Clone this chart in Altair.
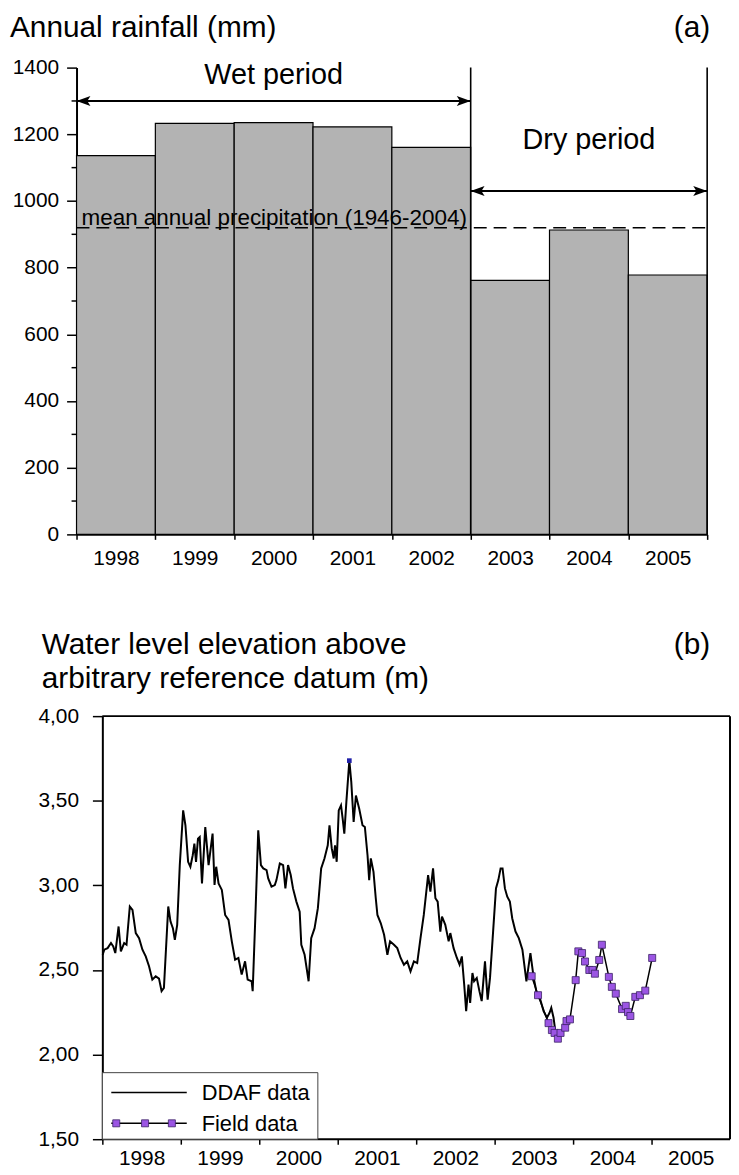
import altair as alt
import pandas as pd

FONT = "Liberation Sans"

# ---------------- panel (a) data ----------------
years = [1998, 1999, 2000, 2001, 2002, 2003, 2004, 2005]
rainfall = [1136, 1233, 1235, 1222, 1161, 762, 913, 778]
mean_precip = 920
mean_label = "mean annual precipitation (1946-2004)"
rain_ticks = [0, 200, 400, 600, 800, 1000, 1200, 1400]
rain_minor = [100, 300, 500, 700, 900, 1100, 1300]
rain_top = 1400
period_names = ["Wet period", "Dry period"]
period_start = [1998, 2003]
period_end = [2003, 2006]
period_level = [1300, 1030]
divider_years = [2003, 2006]

# ---------------- panel (b) data ----------------
ddaf_t = [1998.004, 1998.025, 1998.067, 1998.110, 1998.139, 1998.165, 1998.207, 1998.236,
          1998.278, 1998.308, 1998.350, 1998.384, 1998.426, 1998.468, 1998.511, 1998.553,
          1998.595, 1998.637, 1998.680, 1998.722, 1998.755, 1998.785, 1998.840, 1998.869,
          1998.899, 1998.924, 1998.954, 1998.987, 1999.030, 1999.059, 1999.093, 1999.122,
          1999.152, 1999.173, 1999.194, 1999.219, 1999.241, 1999.270, 1999.312, 1999.354,
          1999.405, 1999.430, 1999.451, 1999.481, 1999.523, 1999.565, 1999.608, 1999.650,
          1999.692, 1999.734, 1999.776, 1999.819, 1999.852, 1999.903, 1999.916, 1999.954,
          1999.987, 2000.021, 2000.051, 2000.093, 2000.114, 2000.156, 2000.198, 2000.219,
          2000.262, 2000.304, 2000.333, 2000.367, 2000.401, 2000.430, 2000.473, 2000.515,
          2000.536, 2000.578, 2000.629, 2000.662, 2000.705, 2000.747, 2000.789, 2000.831,
          2000.873, 2000.895, 2000.924, 2000.949, 2000.966, 2000.987, 2001.013, 2001.042,
          2001.063, 2001.084, 2001.110, 2001.148, 2001.173, 2001.203, 2001.232, 2001.274,
          2001.316, 2001.346, 2001.380, 2001.401, 2001.422, 2001.456, 2001.485, 2001.506,
          2001.549, 2001.591, 2001.633, 2001.667, 2001.717, 2001.759, 2001.802, 2001.844,
          2001.886, 2001.928, 2001.971, 2002.013, 2002.055, 2002.097, 2002.152, 2002.181,
          2002.215, 2002.245, 2002.274, 2002.308, 2002.329, 2002.371, 2002.414, 2002.435,
          2002.477, 2002.519, 2002.553, 2002.582, 2002.612, 2002.637, 2002.667, 2002.688,
          2002.717, 2002.738, 2002.772, 2002.806, 2002.835, 2002.877, 2002.911, 2002.941,
          2002.975, 2003.017, 2003.047, 2003.076, 2003.101, 2003.131, 2003.161, 2003.194,
          2003.224, 2003.266, 2003.308, 2003.354, 2003.405, 2003.456, 2003.498, 2003.540,
          2003.582, 2003.624, 2003.667, 2003.700, 2003.722, 2003.751, 2003.776]
ddaf_v = [2.590, 2.620, 2.629, 2.659, 2.639, 2.600, 2.757, 2.610,
          2.659, 2.649, 2.875, 2.855, 2.718, 2.688, 2.620, 2.580,
          2.522, 2.443, 2.463, 2.449, 2.375, 2.394, 2.875, 2.786,
          2.747, 2.678, 2.767, 3.120, 3.443, 3.355, 3.139, 3.110,
          3.178, 3.247, 3.139, 3.276, 3.286, 3.012, 3.345, 3.120,
          3.306, 3.002, 3.110, 3.012, 2.973, 2.825, 2.796, 2.669,
          2.561, 2.571, 2.473, 2.551, 2.443, 2.433, 2.375, 2.865,
          3.325, 3.120, 3.100, 3.090, 3.041, 2.992, 3.002, 3.031,
          3.129, 3.120, 2.982, 3.120, 3.061, 2.982, 2.904, 2.845,
          2.649, 2.590, 2.433, 2.688, 2.747, 2.865, 3.100, 3.159,
          3.237, 3.355, 3.218, 3.159, 3.237, 3.139, 3.443, 3.473,
          3.394, 3.306, 3.492, 3.737, 3.610, 3.375, 3.531, 3.453,
          3.355, 3.345, 3.178, 3.031, 3.159, 3.080, 2.924, 2.825,
          2.776, 2.708, 2.590, 2.669, 2.649, 2.629, 2.571, 2.531,
          2.551, 2.492, 2.551, 2.541, 2.688, 2.825, 3.061, 2.963,
          3.100, 2.924, 2.904, 2.727, 2.816, 2.767, 2.669, 2.718,
          2.629, 2.571, 2.531, 2.580, 2.414, 2.257, 2.414, 2.306,
          2.482, 2.433, 2.453, 2.375, 2.316, 2.551, 2.325, 2.453,
          2.688, 2.982, 3.031, 3.100, 3.100, 2.982, 2.933, 2.904,
          2.806, 2.727, 2.688, 2.620, 2.433, 2.600, 2.453, 2.355,
          2.325, 2.257, 2.218, 2.247, 2.276, 2.218, 2.129]
field_t = [2003.472, 2003.553, 2003.687, 2003.730, 2003.764, 2003.806, 2003.840, 2003.899,
           2003.916, 2003.960, 2004.033, 2004.067, 2004.114, 2004.152, 2004.207, 2004.248,
           2004.278, 2004.333, 2004.367, 2004.456, 2004.494, 2004.544, 2004.624, 2004.671,
           2004.700, 2004.730, 2004.793, 2004.852, 2004.920, 2005.008]
field_v = [2.463, 2.351, 2.186, 2.145, 2.128, 2.094, 2.128, 2.159,
           2.198, 2.208, 2.440, 2.610, 2.600, 2.550, 2.500, 2.500,
           2.478, 2.559, 2.649, 2.459, 2.400, 2.360, 2.269, 2.288,
           2.251, 2.228, 2.341, 2.351, 2.378, 2.571]
peak_t = [2001.148]
peak_v = [3.737]
level_ticks = [1.5, 2.0, 2.5, 3.0, 3.5, 4.0]
level_min, level_max = 1.5, 4.0
axis_years = [1998, 1999, 2000, 2001, 2002, 2003, 2004, 2005]
legend_labels = ["DDAF data", "Field data"]

PURPLE = "#9b55e3"
PURPLE_EDGE = "#3b2266"

# ================= panel (a) =================
W1, H1 = 635, 470
xs1 = alt.Scale(domain=[1998, 2006], nice=False, zero=False)
ys1 = alt.Scale(domain=[0, rain_top], nice=False)

bar_df = pd.DataFrame({"year": years, "year_end": [y + 1 for y in years], "rain": rainfall,
                       "base": [0] * len(years)})
bars = alt.Chart(bar_df).mark_rect(fill="#b3b3b3", stroke="black", strokeWidth=1.2).encode(
    x=alt.X("year:Q", scale=xs1, title=None, axis=alt.Axis(
        values=years + [2006], format="d",
        labelExpr="datum.value < 2006 ? datum.label : ''",
        labelOffset=39.7, labelFlush=False, tickSize=5, labelPadding=8)),
    x2="year_end:Q",
    y=alt.Y("rain:Q", scale=ys1, title=None, axis=alt.Axis(
        values=rain_ticks, format="d", tickSize=10, labelPadding=8)),
    y2="base:Q",
)

minor = alt.Chart(pd.DataFrame({"v": rain_minor})).mark_rule(
    color="black", strokeWidth=1.5).encode(
    y=alt.Y("v:Q", scale=ys1, title=None), x=alt.value(-5), x2=alt.value(0))

div_df = pd.DataFrame({"x": divider_years, "lo": [0] * len(divider_years),
                       "hi": [rain_top] * len(divider_years)})
dividers = alt.Chart(div_df).mark_rule(color="black", strokeWidth=1.6).encode(
    x=alt.X("x:Q", scale=xs1, title=None),
    y=alt.Y("lo:Q", scale=ys1, title=None), y2="hi:Q")

mean_df = pd.DataFrame({"x0": [years[0]], "x1": [years[-1] + 1], "v": [mean_precip],
                        "t": [mean_label]})
mean_rule = alt.Chart(mean_df).mark_rule(
    color="black", strokeWidth=1.5, strokeDash=[13, 7]).encode(
    x=alt.X("x0:Q", scale=xs1, title=None), x2="x1:Q",
    y=alt.Y("v:Q", scale=ys1, title=None))
mean_text = alt.Chart(mean_df).mark_text(
    align="left", baseline="alphabetic", fontSize=22.6, dx=5, dy=-3).encode(
    x=alt.X("x0:Q", scale=xs1, title=None),
    y=alt.Y("v:Q", scale=ys1, title=None), text="t:N")

per_df = pd.DataFrame({"name": period_names, "start": period_start, "end": period_end,
                       "level": period_level})
per_df["mid"] = (per_df["start"] + per_df["end"]) / 2
arrow_lines = alt.Chart(per_df).mark_rule(color="black", strokeWidth=2).encode(
    x=alt.X("start:Q", scale=xs1, title=None), x2="end:Q",
    y=alt.Y("level:Q", scale=ys1, title=None))
HEAD = "M-1,0L1,-0.72L0.55,0L1,0.72Z"
HEAD_R = "M1,0L-1,-0.72L-0.55,0L-1,0.72Z"
heads_l = alt.Chart(per_df).mark_point(
    shape=HEAD, filled=True, size=196, color="black", opacity=1, xOffset=7).encode(
    x=alt.X("start:Q", scale=xs1, title=None), y=alt.Y("level:Q", scale=ys1, title=None))
heads_r = alt.Chart(per_df).mark_point(
    shape=HEAD_R, filled=True, size=196, color="black", opacity=1, xOffset=-7).encode(
    x=alt.X("end:Q", scale=xs1, title=None), y=alt.Y("level:Q", scale=ys1, title=None))

wet_text = alt.Chart(per_df.iloc[[0]]).mark_text(
    align="center", baseline="alphabetic", fontSize=29, dy=-17).encode(
    x=alt.X("mid:Q", scale=xs1, title=None), y=alt.Y("level:Q", scale=ys1, title=None),
    text="name:N")
dry_text = alt.Chart(per_df.iloc[[1]]).mark_text(
    align="center", baseline="alphabetic", fontSize=29, dy=-42).encode(
    x=alt.X("mid:Q", scale=xs1, title=None), y=alt.Y("level:Q", scale=ys1, title=None),
    text="name:N")

title_a = alt.Chart(pd.DataFrame({"t": ["Annual rainfall (mm)"]})).mark_text(
    align="left", baseline="alphabetic", fontSize=30).encode(
    x=alt.value(-67), y=alt.value(-31), text="t:N")
tag_a = alt.Chart(pd.DataFrame({"t": ["(a)"]})).mark_text(
    align="right", baseline="alphabetic", fontSize=30).encode(
    x=alt.value(638), y=alt.value(-31), text="t:N")

top = alt.layer(bars, minor, dividers, mean_rule, mean_text, arrow_lines, heads_l, heads_r,
                wet_text, dry_text, title_a, tag_a).properties(width=W1, height=H1)

# ================= panel (b) =================
W2, H2 = 658, 426
PX_PER_YEAR = 79.0
xs2 = alt.Scale(domain=[1998 - 26 / PX_PER_YEAR, 2006], nice=False, zero=False)
ys2 = alt.Scale(domain=[level_min, level_max], nice=False, zero=False)

ddaf_df = pd.DataFrame({"t": ddaf_t, "v": ddaf_v})
ddaf = alt.Chart(ddaf_df).mark_line(color="black", strokeWidth=2).encode(
    x=alt.X("t:Q", scale=xs2, title=None, axis=alt.Axis(
        values=axis_years, format="d", labelOffset=39.5, labelFlush=False,
        tickSize=5, domain=False, labelPadding=3)),
    y=alt.Y("v:Q", scale=ys2, title=None, axis=alt.Axis(
        values=level_ticks, offset=-26, tickSize=10, labelPadding=14,
        labelExpr="replace(format(datum.value, '.2f'), '.', ',')")),
)

field_df = pd.DataFrame({"t": field_t, "v": field_v})
field_line = alt.Chart(field_df).mark_line(color="black", strokeWidth=1.5).encode(
    x=alt.X("t:Q", scale=xs2, title=None), y=alt.Y("v:Q", scale=ys2, title=None))
field_pts = alt.Chart(field_df).mark_square(
    size=50, fill=PURPLE, stroke=PURPLE_EDGE, strokeWidth=0.8, opacity=1).encode(
    x=alt.X("t:Q", scale=xs2, title=None), y=alt.Y("v:Q", scale=ys2, title=None))
peak_pt = alt.Chart(pd.DataFrame({"t": peak_t, "v": peak_v})).mark_square(
    size=22, color="#1f1fa8", opacity=1).encode(
    x=alt.X("t:Q", scale=xs2, title=None), y=alt.Y("v:Q", scale=ys2, title=None))

frame_df = pd.DataFrame({"x0": [1998, 1998, 2006], "x1": [2006, 2006, 2006],
                         "y0": [level_min, level_max, level_min],
                         "y1": [level_min, level_max, level_max]})
frame = alt.Chart(frame_df).mark_rule(color="black", strokeWidth=2).encode(
    x=alt.X("x0:Q", scale=xs2, title=None), x2="x1:Q",
    y=alt.Y("y0:Q", scale=ys2, title=None), y2="y1:Q")

# legend (drawn by hand, bottom-left)
leg_box = alt.Chart(pd.DataFrame({"k": [0]})).mark_rect(
    fill="white", stroke="#444444", strokeWidth=1).encode(
    x=alt.value(26), x2=alt.value(243), y=alt.value(H2 - 67), y2=alt.value(H2))
leg_line1 = alt.Chart(pd.DataFrame({"k": [0]})).mark_rule(color="black", strokeWidth=1.5).encode(
    x=alt.value(35), x2=alt.value(111), y=alt.value(H2 - 47))
leg_line2 = alt.Chart(pd.DataFrame({"k": [0]})).mark_rule(color="black", strokeWidth=1.5).encode(
    x=alt.value(35), x2=alt.value(111), y=alt.value(H2 - 16))
leg_sq = [alt.Chart(pd.DataFrame({"k": [0]})).mark_square(
    size=50, fill=PURPLE, stroke=PURPLE_EDGE, strokeWidth=0.8, opacity=1).encode(
    x=alt.value(px), y=alt.value(H2 - 16)) for px in (40, 69, 96)]
leg_t1 = alt.Chart(pd.DataFrame({"t": [legend_labels[0]]})).mark_text(
    align="left", baseline="alphabetic", fontSize=22).encode(
    x=alt.value(126), y=alt.value(H2 - 39), text="t:N")
leg_t2 = alt.Chart(pd.DataFrame({"t": [legend_labels[1]]})).mark_text(
    align="left", baseline="alphabetic", fontSize=22).encode(
    x=alt.value(126), y=alt.value(H2 - 8), text="t:N")

title_b1 = alt.Chart(pd.DataFrame({"t": ["Water level elevation above"]})).mark_text(
    align="left", baseline="alphabetic", fontSize=30).encode(
    x=alt.value(-35), y=alt.value(-63), text="t:N")
title_b2 = alt.Chart(pd.DataFrame({"t": ["arbitrary reference datum (m)"]})).mark_text(
    align="left", baseline="alphabetic", fontSize=30).encode(
    x=alt.value(-35), y=alt.value(-28), text="t:N")
tag_b = alt.Chart(pd.DataFrame({"t": ["(b)"]})).mark_text(
    align="right", baseline="alphabetic", fontSize=30).encode(
    x=alt.value(638), y=alt.value(-63), text="t:N")

bottom = alt.layer(ddaf, frame, field_line, field_pts, peak_pt, leg_box, leg_line1, leg_line2,
                   *leg_sq, leg_t1, leg_t2, title_b1, title_b2, tag_b).properties(
    width=W2, height=H2)

chart = alt.vconcat(top, bottom, spacing=62).properties(
    padding={"left": 2, "top": 1, "right": 0, "bottom": 0}
).configure_view(strokeWidth=0).configure_axis(
    domainColor="black", domainWidth=2, tickColor="black", tickWidth=1.5,
    labelColor="black", labelFont=FONT, labelFontSize=21, grid=False
).configure_text(font=FONT, color="black")

chart.save("out.html", embed_options={"renderer": "svg", "actions": False})
